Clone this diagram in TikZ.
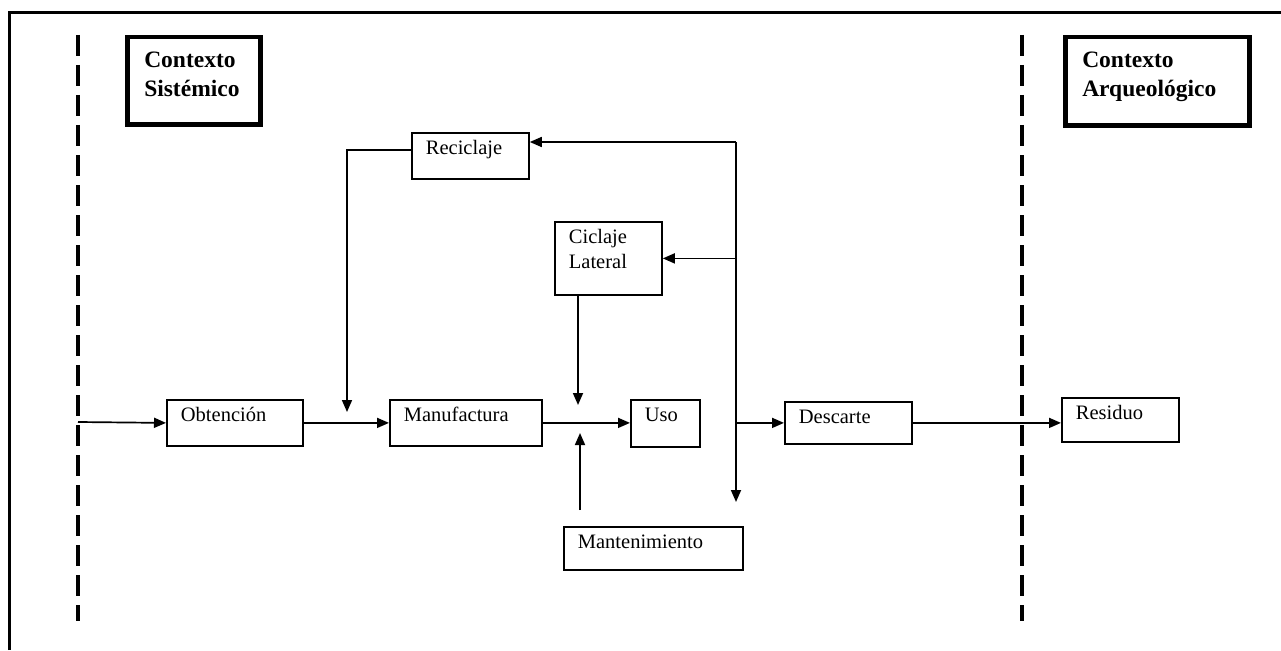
\documentclass[tikz,border=0pt]{standalone}
\usepackage{fontspec}
\setmainfont{Liberation Serif}
\usetikzlibrary{arrows.meta,positioning,calc}
\tikzset{
  box/.style={draw, line width=1.8pt, anchor=north west, align=left, inner xsep=14pt, inner ysep=0pt,
    text height=22pt, font=\fontsize{20.5}{25}\selectfont},
  ctx/.style={draw, line width=4.5pt, anchor=north west, align=left, inner xsep=17pt, inner ysep=0pt,
    text height=30pt, font=\fontsize{23.5}{29}\selectfont\bfseries},
  flow/.style={-{Triangle[length=12pt,width=10pt]}, line width=1.7pt},
  sep/.style={line width=3.5pt, dash pattern=on 21pt off 9pt}
}
\begin{document}
\begin{tikzpicture}[x=1pt,y=-1pt]
  \useasboundingbox (0,0) rectangle (1281,650);
  % frame
  \draw[line width=3pt] (9,650) |- (1281,13);
  % context borders
  \draw[sep] (78,35) -- (78,621);
  \draw[sep] (1022,35) -- (1022,621);
  \node[ctx, text width=99pt, minimum height=87pt, text depth=57pt] (sis) at (125,35) {Contexto\\Sistémico};
  \node[ctx, text width=150pt, minimum height=88pt, text depth=58pt] (arq) at (1063,35) {Contexto\\Arqueológico};
  % boxes
  \node[box, text width=108pt, text depth=24pt] (obt) at (166,399) {Obtención};
  \node[box, text width=124pt, text depth=24pt] (man) at (389,399) {Manufactura};
  \node[box, text width=41pt, text depth=25pt] (uso) at (630,399) {Uso};
  \node[box, text width=99pt, text depth=20pt] (des) at (784,401) {Descarte};
  \node[box, text width=89pt, text depth=22pt] (res) at (1061,397) {Residuo};
  \node[box, text width=89pt, text depth=24pt] (rec) at (411,132) {Reciclaje};
  \node[box, text width=79pt, text depth=51pt] (cic) at (554,221) {Ciclaje\\Lateral};
  \node[box, text width=151pt, text depth=21pt] (mnt) at (563,526) {Mantenimiento};
  % free ends
  \coordinate (in) at (78,422);
  \coordinate (recend) at (347,412);
  \coordinate (cicend) at (578,405);
  \coordinate (mntend) at (580,433);
  \coordinate (vtop) at (736,142);
  \coordinate (vbot) at (736,502);
  % main chain
  \draw[flow] (in) -- (obt.west);
  \draw[flow] (obt.east) -- (man.west);
  \draw[flow] (man.east) -- (man.east -| uso.west);
  \draw[flow] (des.east) -- (des.east -| res.west);
  % side inputs
  \draw[flow] ([yshift=6pt]rec.west) -| (recend);
  \draw[flow] (cic.south -| cicend) -- (cicend);
  \draw[flow] ([yshift=16pt]mnt.north -| mntend) -- (mntend);
  % return line
  \draw[flow] (vtop) -- (vbot);
  \draw[flow] (vtop) -- (vtop -| rec.east);
  \draw[flow] (vtop |- cic.east) -- (cic.east);
  \draw[flow] (vtop |- des.west) -- (des.west);
\end{tikzpicture}
\end{document}
